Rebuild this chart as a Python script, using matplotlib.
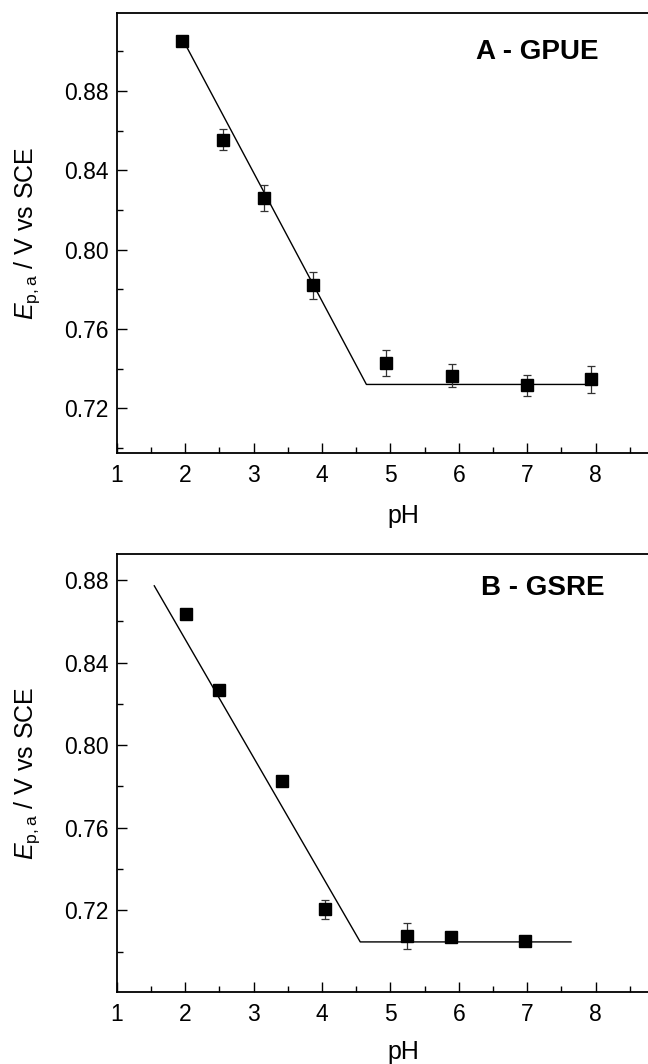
import matplotlib
matplotlib.use('Agg')
import matplotlib.pyplot as plt
from matplotlib.ticker import MultipleLocator

dbl_width  = 648.0
dbl_height = 1064.0
dbl_dpi    = 100.0

plt.rcParams['font.family'] = ['Liberation Sans', 'DejaVu Sans']
plt.rcParams['mathtext.fontset'] = 'custom'
plt.rcParams['mathtext.rm'] = 'Liberation Sans'
plt.rcParams['mathtext.it'] = 'Liberation Sans:italic'

# panel A - GPUE
ph_a   = [1.96, 2.55, 3.16, 3.87, 4.93, 5.90, 7.00, 7.93]
ep_a   = [0.905, 0.8555, 0.826, 0.782, 0.743, 0.7365, 0.7315, 0.7345]
err_a  = [0.0015, 0.0055, 0.0066, 0.0069, 0.0066, 0.0059, 0.0055, 0.0068]
fit_ph_a = [1.98, 4.65, 7.89]
fit_ep_a = [0.905, 0.732, 0.732]

# panel B - GSRE
ph_b   = [2.02, 2.50, 3.42, 4.05, 5.24, 5.89, 6.97]
ep_b   = [0.8635, 0.8267, 0.7826, 0.7205, 0.7076, 0.7071, 0.7052]
err_b  = [0.0022, 0.0015, 0.0012, 0.0045, 0.0062, 0.0012, 0.0018]
fit_ph_b = [1.55, 4.56, 7.64]
fit_ep_b = [0.8772, 0.7047, 0.7047]

fig = plt.figure(figsize=(dbl_width / dbl_dpi, dbl_height / dbl_dpi), dpi=dbl_dpi)

ax_a = fig.add_axes([0.180, 0.574, 0.820, 0.4138])
ax_b = fig.add_axes([0.180, 0.0674, 0.820, 0.4119])

panels = [
    (ax_a, ph_a, ep_a, err_a, fit_ph_a, fit_ep_a, (0.6973, 0.9193), 'A - GPUE', 0.906, 0.912, -0.115),
    (ax_b, ph_b, ep_b, err_b, fit_ph_b, fit_ep_b, (0.6803, 0.8926), 'B - GSRE', 0.919, 0.922, -0.108),
]

for ax, x, y, e, fx, fy, ylim, label, tx, ty, xl_y in panels:
    ax.plot(fx, fy, color='k', lw=1.0, zorder=2)
    ax.errorbar(x, y, yerr=e, fmt='s', color='k', ms=9, ecolor='#333333',
                elinewidth=0.9, capsize=3, capthick=0.9, zorder=3)
    ax.set_xlim(1.0, 8.765)
    ax.set_ylim(*ylim)
    ax.xaxis.set_major_locator(MultipleLocator(1))
    ax.xaxis.set_minor_locator(MultipleLocator(0.5))
    ax.yaxis.set_major_locator(MultipleLocator(0.04))
    ax.yaxis.set_minor_locator(MultipleLocator(0.02))
    ax.yaxis.set_major_formatter(plt.FormatStrFormatter('%.2f'))
    ax.tick_params(which='major', direction='in', length=7, width=1.0, labelsize=16.5)
    ax.tick_params(axis='x', which='major', pad=8)
    ax.tick_params(axis='y', which='major', pad=6)
    ax.tick_params(which='minor', direction='in', length=4, width=1.0)
    ax.tick_params(top=False, right=False)
    ax.spines['right'].set_visible(False)
    for s in ['left', 'bottom', 'top']:
        ax.spines[s].set_linewidth(1.3)
    ax.set_xlabel('pH', fontsize=18)
    ax.set_ylabel(r'$E_{\rm p,a}$ / V vs SCE', fontsize=18)
    ax.yaxis.set_label_coords(-0.141, 0.5)
    ax.xaxis.set_label_coords(0.54, xl_y)
    ax.text(tx, ty, label, transform=ax.transAxes, ha='right', va='center',
            fontsize=20, fontweight='bold')

plt.savefig('out.png', dpi=dbl_dpi)
